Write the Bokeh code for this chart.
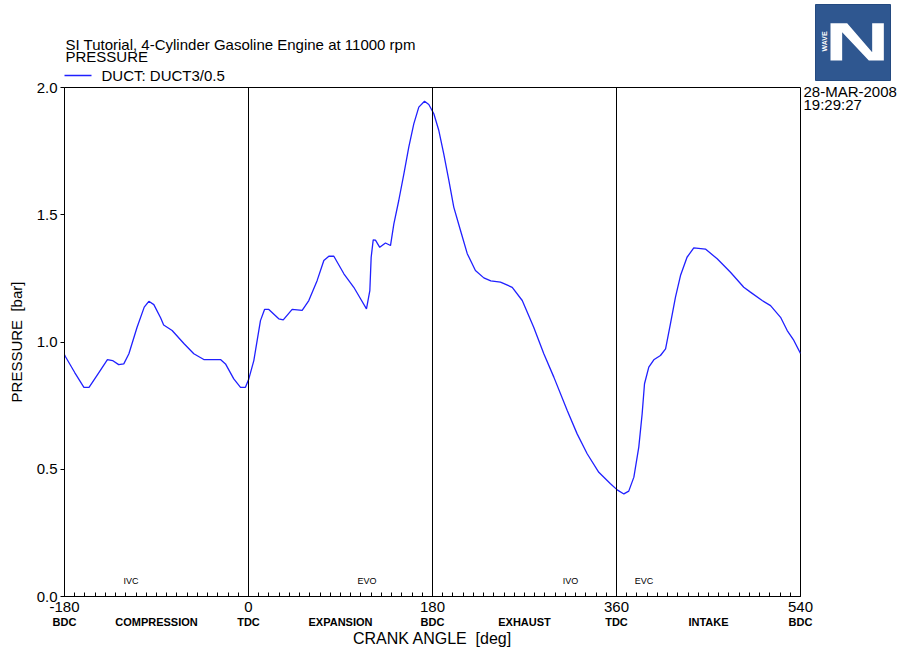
from math import pi
from bokeh.plotting import figure
from bokeh.layouts import column
from bokeh.models import (Range1d, FixedTicker, Span, Label, LinearAxis,
                          PrintfTickFormatter)
from bokeh.core.properties import value
from bokeh.embed import file_html
from bokeh.resources import INLINE

# ---------------- data ----------------
crank_deg = [-180, -179, -170, -161, -156, -148, -138, -133, -127, -122, -117, -109,
             -102, -97.5, -92.6, -86, -83, -74.7, -63, -53.5, -43.7, -27.4, -22.5,
             -14.4, -7.8, -3, 0.3, 5.2, 11.7, 15.7, 19.9, 29.6, 34, 42.7, 52.5, 59,
             67.2, 73.7, 78.6, 83.5, 93.3, 103, 109.6, 115.4, 118.7, 120, 122, 124.2,
             128.4, 134, 138.9, 142.2, 147, 152, 156.8, 161.7, 166.6, 172.2, 176.4,
             181.3, 186.2, 191, 196, 200.8, 207.4, 214, 222, 230.2, 237, 246.5, 258,
             267.8, 279, 288.9, 298.7, 311.8, 321.5, 331.3, 342.7, 354.1, 360.7,
             367.2, 372, 377, 381.8, 385.1, 387.4, 391.6, 396.5, 403, 408, 412.8,
             417.7, 422.6, 429, 435.6, 447, 458.5, 471.5, 484.5, 491, 502.5, 510.7,
             520.5, 527, 533.5, 540]
pressure_bar = [0.950, 0.942, 0.880, 0.822, 0.822, 0.870, 0.931, 0.927, 0.911, 0.914,
                0.954, 1.058, 1.137, 1.160, 1.147, 1.095, 1.067, 1.045, 0.993, 0.954,
                0.931, 0.931, 0.914, 0.855, 0.822, 0.822, 0.855, 0.927, 1.084, 1.128,
                1.128, 1.091, 1.087, 1.128, 1.124, 1.163, 1.242, 1.320, 1.337, 1.337,
                1.268, 1.215, 1.170, 1.130, 1.202, 1.333, 1.401, 1.400, 1.372, 1.389,
                1.379, 1.464, 1.556, 1.661, 1.766, 1.857, 1.923, 1.946, 1.933, 1.897,
                1.831, 1.739, 1.635, 1.530, 1.438, 1.347, 1.281, 1.252, 1.240, 1.235,
                1.215, 1.163, 1.058, 0.954, 0.862, 0.731, 0.639, 0.561, 0.488, 0.443,
                0.419, 0.403, 0.414, 0.469, 0.587, 0.718, 0.836, 0.901, 0.930, 0.947,
                0.973, 1.072, 1.176, 1.261, 1.333, 1.370, 1.365, 1.327, 1.274, 1.215,
                1.196, 1.163, 1.143, 1.097, 1.045, 1.006, 0.955]

x_ticks = [-180, 0, 180, 360, 540]
x_tick_labels = ["-180", "0", "180", "360", "540"]
y_ticks = [0.0, 0.5, 1.0, 1.5, 2.0]
stroke_lines = [0, 180, 360]
stroke_pos = [-180, -90, 0, 90, 180, 270, 360, 450, 540]
stroke_names = ["BDC", "COMPRESSION", "TDC", "EXPANSION", "BDC", "EXHAUST", "TDC", "INTAKE", "BDC"]
event_pos = [-115, 116, 315, 387]
event_names = ["IVC", "EVO", "IVO", "EVC"]

title_text = "SI Tutorial, 4-Cylinder Gasoline Engine at 11000 rpm"
subtitle_text = "PRESSURE"
legend_text = "DUCT: DUCT3/0.5"
date_text = "28-MAR-2008"
time_text = "19:29:27"
x_title = "CRANK ANGLE \u00a0[deg]"
y_title = "PRESSURE \u00a0[bar]"

# ---------------- geometry ----------------
W = 907
HEAD_H = 87          # header strip height (ends at the frame top)
OVERLAP = 12         # main plot is pulled up under the transparent header bottom
FL, FT, FW, FH = 64, 87, 736, 509
XMIN, XMAX, YMIN, YMAX = -180, 540, 0.0, 2.0

FONT = "Liberation Sans"
BLUE = "#2020ff"

# ---------------- header strip (titles, legend, logo) ----------------
head = figure(width=W, height=HEAD_H, x_range=Range1d(0, W), y_range=Range1d(HEAD_H, 0),
              min_border=0, output_backend="svg", toolbar_location=None)
head.frame_align = False
head.axis.visible = False
head.grid.visible = False
head.outline_line_color = None
head.background_fill_alpha = 0
head.border_fill_alpha = 0

head.text(x=[65, 65, 101], y=[43.5, 56, 74.5], text=[title_text, subtitle_text, legend_text],
          text_font=value(FONT), text_font_size="15px", text_baseline="middle",
          text_align="left", text_color="black")
head.segment(x0=[64], y0=[75], x1=[91], y1=[75], line_color=BLUE, line_width=1.4)

# logo (decorative)
head.quad(left=[815], right=[890], top=[4], bottom=[80], fill_color="#2f5790",
          line_color="#244a80")
n_pts = [(90, 68), (140, 68), (215, 155), (215, 68), (250, 68), (250, 180), (205, 180),
         (125, 95), (125, 180), (90, 180)]
head.patch([800 + a / 3 for a, b in n_pts], [b / 3 for a, b in n_pts],
           fill_color="white", line_color=None)
head.text(x=[824], y=[41], text=["WAVE"], angle=pi / 2, text_font=value(FONT),
          text_font_size="7px", text_color="white", text_font_style="bold",
          text_align="center", text_baseline="middle")

# ---------------- main plot ----------------
p = figure(frame_width=FW, frame_height=FH, min_border_left=FL, min_border_top=OVERLAP,
           min_border_right=W - FL - FW, min_border_bottom=647 - FT - FH,
           x_range=Range1d(XMIN, XMAX), y_range=Range1d(YMIN, YMAX),
           output_backend="svg", toolbar_location=None)
p.frame_align = False
p.styles = {"margin-top": f"-{OVERLAP}px"}
p.background_fill_color = "white"
p.border_fill_alpha = 0
p.outline_line_color = "black"
p.outline_line_width = 1
p.xgrid.visible = False
p.ygrid.visible = False

xa = p.xaxis[0]
xa.ticker = FixedTicker(ticks=x_ticks, minor_ticks=list(range(-170, 540, 10)))
xa.major_label_overrides = dict(zip(x_ticks, x_tick_labels))
xa.major_tick_in = 5
xa.major_tick_out = 0
xa.minor_tick_in = 4
xa.minor_tick_out = 0
xa.major_label_text_font = FONT
xa.major_label_text_font_size = "15px"
xa.major_label_text_color = "black"
xa.major_label_standoff = 5
xa.axis_line_color = "black"

# second row of x labels (stroke names) + axis title
xa2 = LinearAxis(ticker=FixedTicker(ticks=stroke_pos, minor_ticks=[]),
                 major_label_overrides=dict(zip(stroke_pos, stroke_names)),
                 axis_line_color=None, major_tick_line_color=None,
                 minor_tick_line_color=None, major_tick_in=0, major_tick_out=0,
                 major_label_standoff=1, major_label_text_font=FONT,
                 major_label_text_font_size="11px", major_label_text_font_style="bold",
                 major_label_text_color="black",
                 axis_label=x_title, axis_label_text_font=FONT,
                 axis_label_text_font_size="16px", axis_label_text_font_style="normal",
                 axis_label_text_color="black", axis_label_standoff=-1)
p.add_layout(xa2, "below")

ya = p.yaxis[0]
ya.ticker = FixedTicker(ticks=y_ticks)
ya.formatter = PrintfTickFormatter(format="%.1f")
ya.major_tick_in = 0
ya.major_tick_out = 4
ya.minor_tick_line_color = None
ya.major_label_text_font = FONT
ya.major_label_text_font_size = "15px"
ya.major_label_text_color = "black"
ya.major_label_standoff = 3
ya.axis_line_color = "black"
ya.axis_label = y_title
ya.axis_label_text_font = FONT
ya.axis_label_text_font_size = "15px"
ya.axis_label_text_font_style = "normal"
ya.axis_label_text_color = "black"
ya.axis_label_standoff = 9

# date / time stamp at the right of the frame
stamp_vals = [YMAX - (91 - FT) * (YMAX - YMIN) / FH, YMAX - (104 - FT) * (YMAX - YMIN) / FH]
ra = LinearAxis(ticker=FixedTicker(ticks=stamp_vals, minor_ticks=[]),
                major_label_overrides=dict(zip(stamp_vals, [date_text, time_text])),
                axis_line_color=None, major_tick_line_color=None,
                minor_tick_line_color=None, major_tick_in=0, major_tick_out=0,
                major_label_standoff=3, major_label_text_font=FONT,
                major_label_text_font_size="15px", major_label_text_color="black")
p.add_layout(ra, "right")

for v in stroke_lines:
    p.add_layout(Span(location=v, dimension="height", line_color="black", line_width=1))

p.line(crank_deg, pressure_bar, line_color=BLUE, line_width=1.3)

ev_y = YMAX - (580 - FT) * (YMAX - YMIN) / FH
for xp, nm in zip(event_pos, event_names):
    p.add_layout(Label(x=xp, y=ev_y, text=nm, text_font=FONT, text_font_size="9px",
                       text_align="center", text_baseline="middle", text_color="black"))

layout = column(head, p, spacing=0)
open("out.html", "w").write(file_html(layout, INLINE))
